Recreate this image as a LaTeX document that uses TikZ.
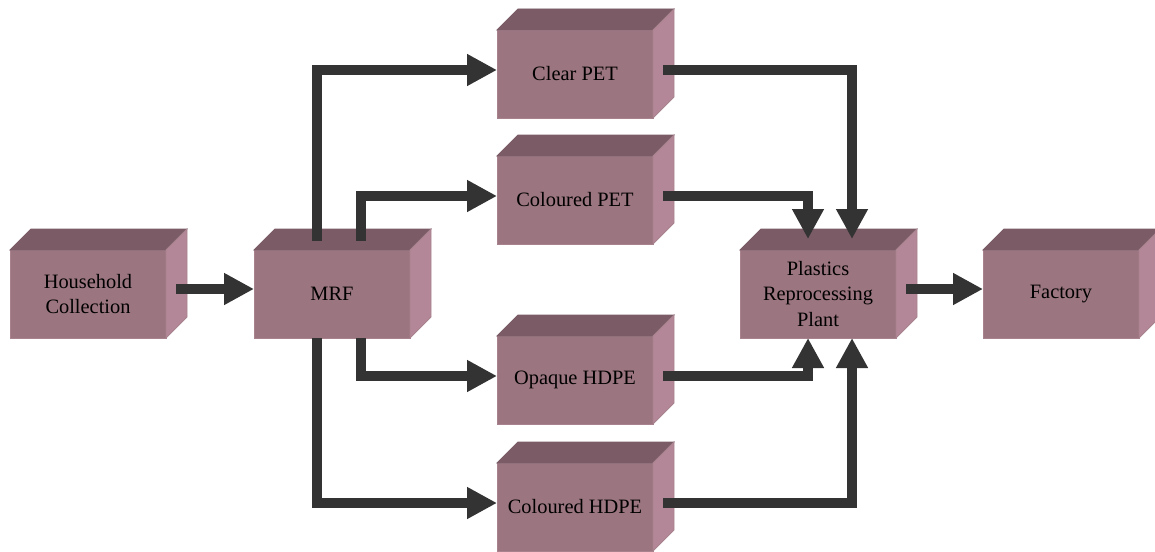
\documentclass[tikz,border=0pt]{standalone}
\usepackage{fontspec}
\setmainfont{Liberation Serif}
\usetikzlibrary{arrows.meta,calc}
\definecolor{facefront}{HTML}{9B7580}
\definecolor{facetop}{HTML}{7A5B66}
\definecolor{faceside}{HTML}{B38798}
\definecolor{faceedge}{HTML}{A8838E}
\definecolor{flowgray}{HTML}{333333}
\tikzset{
  front/.style={rectangle, fill=facefront, draw=faceedge, line width=0.4pt,
    minimum width=78pt, minimum height=44pt, inner sep=0pt, outer sep=0pt,
    align=center, font=\fontsize{10.2}{12.6}\selectfont},
  topface/.style={fill=facetop, draw=facetop, line width=0.4pt},
  sideface/.style={fill=faceside, draw=faceedge, line width=0.4pt},
  flow/.style={draw=flowgray, line width=5pt, line join=miter,
    -{Triangle[length=15pt,width=15pt]}}
}
% a box with a top and a right face in oblique view
\newcommand\solidbox[3]{%
  \node[front] (#1) at (#2) {#3};
  \filldraw[topface] (#1.north west) -- ++(21,-21) -- ++(156,0) -- (#1.north east) -- cycle;
  \filldraw[sideface] (#1.north east) -- ++(21,-21) -- ++(0,88) -- (#1.south east) -- cycle;
}
\begin{document}
\begin{tikzpicture}[x=0.5pt,y=-0.5pt]
\path[use as bounding box] (0,0) rectangle (1155,551);
\clip (0,0) rectangle (1155,551);

\solidbox{hh}{88,294}{Household\\Collection}
\solidbox{mrf}{332,294}{MRF}
\solidbox{clear}{575,74}{Clear PET}
\solidbox{cpet}{575,200}{Coloured PET}
\solidbox{ohdpe}{575,380}{Opaque HDPE}
\solidbox{chdpe}{575,507}{Coloured HDPE}
\solidbox{prp}{818,294}{Plastics\\Reprocessing\\Plant}
\solidbox{fac}{1061,294}{Factory}

% collection into the sorting facility
\draw[flow] ($(hh.east)+(10,-5)$) -- ($(mrf.west)+(0,-5)$);
% sorting into the four polymer streams
\draw[flow] ($(mrf.north)+(-15,-9)$) |- ($(clear.west)+(0,-4)$);
\draw[flow] ($(mrf.north)+(29,-9)$) |- ($(cpet.west)+(0,-4)$);
\draw[flow] ($(mrf.south)+(29,0)$) |- ($(ohdpe.west)+(0,-4)$);
\draw[flow] ($(mrf.south)+(-15,0)$) |- ($(chdpe.west)+(0,-4)$);
% streams into reprocessing
\draw[flow] ($(clear.east)+(10,-4)$) -| ($(prp.north)+(34,-11)$);
\draw[flow] ($(cpet.east)+(10,-4)$) -| ($(prp.north)+(-10,-11)$);
\draw[flow] ($(ohdpe.east)+(10,-4)$) -| ($(prp.south)+(-10,0)$);
\draw[flow] ($(chdpe.east)+(10,-4)$) -| ($(prp.south)+(34,0)$);
% reprocessed material to the factory
\draw[flow] ($(prp.east)+(10,-5)$) -- ($(fac.west)+(0,-5)$);
\end{tikzpicture}
\end{document}
